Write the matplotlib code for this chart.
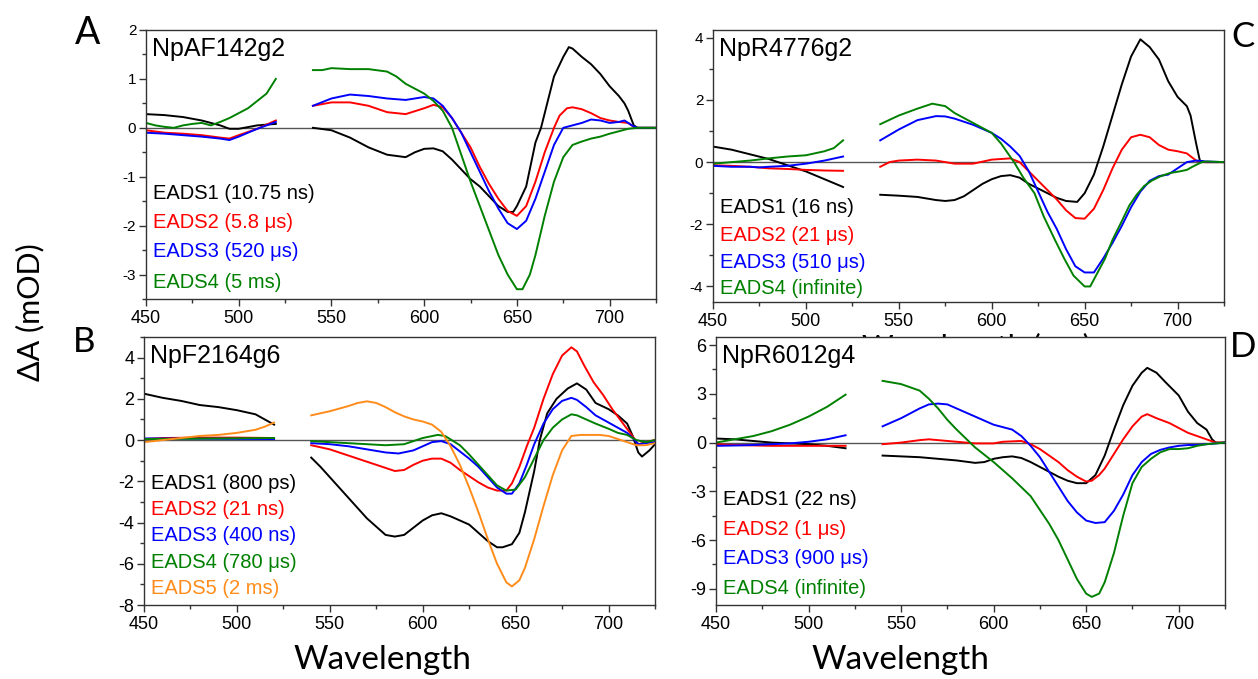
import matplotlib.pyplot as plt
import numpy as np
from matplotlib.ticker import MultipleLocator

plt.rcParams['font.family'] = ['Liberation Sans', 'DejaVu Sans']
plt.rcParams['axes.unicode_minus'] = False

nan = np.nan

# ---- panel A: NpAF142g2 ----
a_k_wl = [450, 460, 470, 480, 490, 495, 500, 510, 520, 530,
          540, 550, 560, 570, 580, 590, 595, 600, 605, 610, 615, 620, 625, 630, 635, 640, 645, 648, 650, 655,
          660, 663, 667, 670, 675, 678, 680, 685, 690, 695, 700, 705, 708, 710, 713, 715, 725]
a_k = [0.28, 0.26, 0.22, 0.15, 0.05, -0.02, -0.02, 0.05, 0.08, nan,
       0, -0.05, -0.2, -0.4, -0.55, -0.6, -0.5, -0.43, -0.42, -0.48, -0.65, -0.85, -1.05, -1.2, -1.4, -1.6, -1.72, -1.72, -1.6, -1.2,
       -0.3, 0, 0.6, 1.05, 1.45, 1.65, 1.62, 1.45, 1.3, 1.1, 0.85, 0.65, 0.5, 0.35, 0.05, 0, 0]
a_r_wl = [450, 460, 470, 480, 490, 495, 500, 510, 520, 530,
          540, 550, 560, 570, 580, 590, 600, 605, 610, 615, 620, 625, 630, 635, 640, 645, 650, 655, 660,
          665, 670, 673, 677, 680, 685, 690, 695, 700, 705, 710, 713, 715, 725]
a_r = [-0.05, -0.1, -0.12, -0.15, -0.2, -0.22, -0.15, -0.02, 0.15, nan,
       0.45, 0.52, 0.52, 0.45, 0.32, 0.28, 0.4, 0.47, 0.42, 0.2, -0.1, -0.4, -0.8, -1.15, -1.45, -1.7, -1.8, -1.6, -1.1,
       -0.5, 0, 0.25, 0.4, 0.42, 0.38, 0.3, 0.2, 0.15, 0.12, 0.1, 0.02, 0, 0]
a_b_wl = [450, 460, 470, 480, 490, 495, 500, 510, 520, 530,
          540, 550, 560, 570, 580, 590, 600, 605, 610, 615, 620, 625, 630, 635, 640, 645, 650, 655, 660,
          665, 670, 675, 680, 685, 690, 695, 700, 705, 708, 712, 715, 725]
a_b = [-0.1, -0.12, -0.15, -0.18, -0.22, -0.25, -0.18, -0.02, 0.12, nan,
       0.45, 0.6, 0.68, 0.65, 0.6, 0.57, 0.63, 0.6, 0.45, 0.2, -0.1, -0.5, -0.9, -1.3, -1.65, -1.95, -2.07, -1.9, -1.45,
       -0.9, -0.35, 0, 0.05, 0.1, 0.17, 0.15, 0.1, 0.12, 0.15, 0.05, 0, 0]
a_g_wl = [450, 455, 460, 465, 470, 475, 480, 485, 490, 495, 500, 505, 510, 515, 520, 530,
          540, 545, 550, 560, 570, 580, 585, 590, 595, 600, 605, 610, 615, 620, 625, 630, 635, 640, 645, 650,
          653, 657, 660, 665, 670, 675, 680, 685, 690, 695, 700, 705, 710, 715, 725]
a_g = [0.1, 0.05, 0.02, 0.0, 0.05, 0.08, 0.1, 0.05, 0.12, 0.2, 0.3, 0.4, 0.55, 0.7, 1.0, nan,
       1.18, 1.18, 1.22, 1.2, 1.2, 1.15, 1.05, 0.9, 0.8, 0.7, 0.55, 0.35, 0.0, -0.55, -1.1, -1.6, -2.1, -2.6, -3.0, -3.3,
       -3.3, -3.0, -2.6, -1.8, -1.1, -0.6, -0.35, -0.28, -0.22, -0.18, -0.12, -0.07, -0.02, 0, 0]
a_labels = ['EADS1 (10.75 ns)', 'EADS2 (5.8 \u03bcs)', 'EADS3 (520 \u03bcs)', 'EADS4 (5 ms)']

# ---- panel C: NpR4776g2 ----
c_k_wl = [450, 460, 470, 480, 490, 500, 510, 520, 530,
          540, 550, 560, 570, 575, 580, 585, 590, 595, 600, 605, 610, 615, 620, 625, 630, 635, 640, 646, 650,
          655, 660, 665, 670, 675, 680, 685, 690, 695, 700, 705, 707, 710, 712, 715, 725]
c_k = [0.5, 0.4, 0.25, 0.1, -0.1, -0.3, -0.55, -0.8, nan,
       -1.05, -1.08, -1.12, -1.22, -1.25, -1.22, -1.1, -0.9, -0.7, -0.55, -0.45, -0.42, -0.5, -0.7, -0.85, -1.0, -1.15, -1.25, -1.28, -1.0,
       -0.4, 0.5, 1.5, 2.5, 3.4, 3.95, 3.7, 3.3, 2.6, 2.1, 1.8, 1.5, 0.6, 0.05, 0, 0]
c_r_wl = [450, 460, 470, 480, 490, 500, 510, 520, 530,
          540, 545, 550, 560, 570, 580, 590, 600, 610, 615, 620, 625, 630, 635, 640, 645, 650, 655, 660, 665,
          670, 675, 680, 685, 690, 695, 700, 705, 710, 713, 725]
c_r = [-0.1, -0.12, -0.15, -0.2, -0.22, -0.25, -0.27, -0.28, nan,
       -0.15, 0.0, 0.05, 0.08, 0.05, -0.05, -0.05, 0.08, 0.12, 0.0, -0.3, -0.6, -0.9, -1.2, -1.55, -1.8, -1.82, -1.5, -0.9, -0.2,
       0.4, 0.8, 0.88, 0.8, 0.55, 0.4, 0.35, 0.28, 0.05, 0.0, 0.0]
c_b_wl = [450, 460, 470, 475, 480, 490, 500, 510, 520, 530,
          540, 550, 560, 570, 575, 580, 590, 600, 605, 610, 615, 620, 625, 630, 635, 640, 645, 650, 655, 660,
          665, 670, 675, 680, 685, 690, 695, 700, 705, 710, 715, 725]
c_b = [-0.12, -0.15, -0.15, -0.17, -0.15, -0.12, -0.05, 0.05, 0.18, nan,
       0.7, 1.05, 1.35, 1.48, 1.47, 1.4, 1.2, 0.94, 0.75, 0.5, 0.2, -0.3, -0.95, -1.6, -2.15, -2.8, -3.35, -3.55, -3.55, -3.1,
       -2.6, -2.05, -1.45, -0.95, -0.6, -0.45, -0.4, -0.2, 0.0, 0.05, 0.02, 0]
c_g_wl = [450, 460, 470, 480, 490, 500, 510, 515, 520, 530,
          540, 550, 560, 568, 575, 580, 590, 600, 605, 612, 617, 623, 628, 634, 639, 644, 650, 653, 657, 661,
          665, 670, 674, 678, 682, 686, 691, 696, 701, 705, 708, 713, 716, 725]
c_g = [-0.05, 0.0, 0.05, 0.12, 0.18, 0.22, 0.35, 0.45, 0.7, nan,
       1.22, 1.5, 1.72, 1.88, 1.8, 1.58, 1.26, 0.94, 0.6, 0.0, -0.5, -1.0, -1.75, -2.5, -3.1, -3.65, -4.0, -4.0, -3.55, -3.1,
       -2.5, -1.9, -1.4, -1.05, -0.77, -0.6, -0.45, -0.35, -0.3, -0.25, -0.15, 0.0, 0.02, 0]
c_labels = ['EADS1 (16 ns)', 'EADS2 (21 \u03bcs)', 'EADS3 (510 \u03bcs)', 'EADS4 (infinite)']

# ---- panel B: NpF2164g6 ----
b_k_wl = [450, 460, 470, 480, 490, 500, 510, 515, 520, 530,
          540, 545, 550, 555, 560, 565, 570, 575, 580, 585, 590, 595, 600, 605, 610, 615, 620, 625, 630, 635,
          640, 643, 648, 652, 655, 660, 663, 667, 672, 678, 683, 688, 693, 700, 705, 710, 713, 716, 718, 722, 725]
b_k = [2.25, 2.05, 1.9, 1.7, 1.6, 1.45, 1.25, 1.0, 0.75, nan,
       -0.85, -1.3, -1.8, -2.3, -2.8, -3.3, -3.8, -4.2, -4.6, -4.68, -4.6, -4.25, -3.9, -3.65, -3.55, -3.7, -3.9, -4.1, -4.5, -4.9,
       -5.2, -5.2, -5.05, -4.5, -3.5, -1.5, 0, 1.3, 2.0, 2.5, 2.75, 2.45, 1.8, 1.5, 1.2, 0.8, 0.2, -0.6, -0.8, -0.5, -0.2]
b_r_wl = [450, 460, 480, 500, 520, 530,
          540, 550, 560, 570, 580, 585, 590, 595, 600, 605, 610, 615, 620, 625, 630, 635, 640, 645, 648, 652,
          656, 660, 665, 670, 675, 680, 683, 687, 692, 697, 702, 707, 712, 716, 720, 725]
b_r = [0.05, 0.1, 0.12, 0.12, 0.1, nan,
       -0.25, -0.45, -0.75, -1.05, -1.35, -1.5, -1.45, -1.2, -1.0, -0.9, -0.9, -1.1, -1.45, -1.75, -2.05, -2.3, -2.45, -2.45, -2.1, -1.3,
       -0.3, 0.6, 2.0, 3.2, 4.1, 4.5, 4.3, 3.6, 2.8, 2.2, 1.5, 0.9, 0.3, -0.2, -0.1, 0]
b_b_wl = [450, 520, 530,
          540, 550, 560, 570, 580, 587, 595, 600, 605, 610, 615, 620, 625, 630, 635, 640, 645, 648, 652,
          656, 660, 665, 670, 675, 680, 683, 688, 693, 700, 705, 710, 713, 716, 720, 725]
b_b = [0.08, 0.05, nan,
       -0.15, -0.2, -0.3, -0.45, -0.6, -0.65, -0.5, -0.3, -0.1, -0.05, -0.2, -0.55, -0.9, -1.3, -1.8, -2.3, -2.6, -2.6, -2.1,
       -1.2, -0.2, 0.8, 1.5, 1.9, 2.05, 1.95, 1.6, 1.2, 0.85, 0.6, 0.35, 0.1, -0.2, -0.15, -0.1]
b_g_wl = [450, 520, 530,
          540, 550, 560, 570, 580, 590, 600, 608, 612, 620, 625, 630, 635, 640, 645, 650, 655,
          660, 665, 670, 675, 680, 683, 688, 693, 700, 705, 710, 715, 720, 725]
b_g = [0.05, 0.1, nan,
       -0.05, -0.1, -0.15, -0.2, -0.25, -0.2, 0.1, 0.25, 0.2, -0.25, -0.7, -1.2, -1.7, -2.2, -2.45, -2.4, -1.8,
       -0.9, 0.0, 0.6, 1.0, 1.25, 1.2, 1.0, 0.8, 0.55, 0.35, 0.25, 0.0, -0.1, 0.0]
b_o_wl = [450, 460, 470, 480, 490, 500, 510, 515, 520, 530,
          540, 550, 560, 565, 570, 575, 580, 585, 590, 595, 600, 605, 610, 615, 620, 625, 630, 635, 640, 645,
          648, 652, 655, 660, 665, 670, 675, 680, 685, 690, 695, 700, 705, 710, 715, 720, 725]
b_o = [-0.1, 0.0, 0.1, 0.2, 0.25, 0.35, 0.5, 0.65, 0.85, nan,
       1.2, 1.4, 1.65, 1.8, 1.88, 1.8, 1.6, 1.35, 1.15, 1.0, 0.9, 0.75, 0.4, -0.3, -1.2, -2.3, -3.5, -4.8, -6.0, -6.9,
       -7.1, -6.8, -6.2, -4.8, -3.2, -1.7, -0.5, 0.2, 0.25, 0.25, 0.25, 0.2, 0.05, -0.1, -0.25, -0.25, -0.15]
b_labels = ['EADS1 (800 ps)', 'EADS2 (21 ns)', 'EADS3 (400 ns)', 'EADS4 (780 \u03bcs)', 'EADS5 (2 ms)']

# ---- panel D: NpR6012g4 ----
d_k_wl = [450, 460, 470, 480, 490, 500, 510, 520, 530,
          540, 550, 560, 570, 580, 590, 595, 600, 605, 610, 615, 620, 625, 630, 635, 640, 645, 650, 655, 660,
          665, 670, 675, 680, 683, 688, 693, 700, 705, 710, 715, 718, 720, 725]
d_k = [0.25, 0.2, 0.1, 0.0, -0.05, -0.1, -0.2, -0.35, nan,
       -0.8, -0.85, -0.9, -1.0, -1.1, -1.25, -1.2, -1.0, -0.9, -0.85, -0.95, -1.2, -1.5, -1.8, -2.1, -2.35, -2.5, -2.5, -2.0, -0.8,
       0.8, 2.3, 3.5, 4.3, 4.6, 4.3, 3.7, 2.9, 1.9, 1.2, 0.8, 0.2, 0.0, 0]
d_r_wl = [450, 460, 480, 500, 520, 530,
          540, 550, 560, 565, 570, 580, 590, 600, 605, 615, 620, 625, 630, 635, 640, 645, 650, 653, 657, 660,
          665, 670, 675, 680, 683, 688, 695, 700, 705, 710, 715, 720, 725]
d_r = [-0.1, -0.15, -0.2, -0.2, -0.2, nan,
       -0.1, 0.0, 0.15, 0.2, 0.15, 0.05, -0.05, -0.05, 0.05, 0.1, -0.1, -0.4, -0.8, -1.2, -1.7, -2.1, -2.4, -2.35, -2.0, -1.6,
       -0.7, 0.2, 1.0, 1.6, 1.75, 1.5, 1.2, 0.9, 0.6, 0.4, 0.2, 0.0, 0]
d_b_wl = [450, 460, 470, 480, 490, 500, 510, 520, 530,
          540, 550, 560, 565, 570, 575, 580, 590, 600, 610, 615, 620, 625, 630, 635, 640, 645, 650, 655, 660,
          665, 670, 675, 680, 685, 690, 695, 700, 705, 710, 715, 720, 725]
d_b = [-0.2, -0.18, -0.15, -0.1, -0.05, 0.05, 0.2, 0.45, nan,
       1.0, 1.5, 2.1, 2.35, 2.4, 2.35, 2.1, 1.6, 1.1, 0.8, 0.4, -0.2, -0.9, -1.8, -2.7, -3.6, -4.3, -4.8, -4.95, -4.9,
       -4.2, -3.2, -2.0, -1.2, -0.7, -0.45, -0.3, -0.2, -0.15, -0.15, -0.1, -0.05, 0]
d_g_wl = [450, 460, 470, 480, 490, 500, 510, 520, 530,
          540, 550, 560, 565, 570, 575, 580, 590, 600, 610, 620, 630, 635, 640, 645, 650, 653, 657, 660,
          665, 670, 675, 680, 685, 690, 695, 700, 705, 710, 715, 720, 725]
d_g = [0.0, 0.2, 0.4, 0.7, 1.1, 1.6, 2.2, 2.95, nan,
       3.8, 3.6, 3.2, 2.7, 2.1, 1.4, 0.8, -0.3, -1.2, -2.2, -3.3, -5.0, -6.0, -7.2, -8.4, -9.3, -9.5, -9.3, -8.6,
       -6.8, -4.5, -2.5, -1.5, -1.0, -0.6, -0.4, -0.4, -0.35, -0.2, -0.1, -0.05, 0]
d_labels = ['EADS1 (22 ns)', 'EADS2 (1 \u03bcs)', 'EADS3 (900 \u03bcs)', 'EADS4 (infinite)']

colors = ['black', '#ff0000', '#0000ff', '#008000', '#ff8c1a']

W, H = 1258, 679
fig = plt.figure(figsize=(W / 100, H / 100), dpi=100)


def box(l, t, r, b):
    return [l / W, 1 - b / H, (r - l) / W, (b - t) / H]


def panel(rect, series, ylim, major, minor, title, labels, label_y, ytick_fs):
    ax = fig.add_axes(box(*rect))
    ax.axhline(0, color='#555555', lw=1, zorder=1)
    for i, (wl, v) in enumerate(series):
        ax.plot(wl, v, color=colors[i], lw=1.4, zorder=2)
    ax.set_xlim(450, 725)
    ax.set_ylim(*ylim)
    ax.xaxis.set_major_locator(MultipleLocator(50))
    ax.xaxis.set_minor_locator(MultipleLocator(25))
    ax.yaxis.set_major_locator(MultipleLocator(major))
    ax.yaxis.set_minor_locator(MultipleLocator(minor))
    ax.tick_params(which='major', direction='out', length=5, width=1, color='#333333')
    ax.tick_params(which='minor', direction='out', length=3, width=1, color='#333333')
    ax.tick_params(axis='x', labelsize=13, pad=3)
    ax.tick_params(axis='y', labelsize=ytick_fs, pad=2)
    for s in ax.spines.values():
        s.set_color('#333333')
        s.set_linewidth(1)
    ax.text(0.012, 0.975, title, transform=ax.transAxes, fontsize=18, va='top', ha='left')
    for i, lab in enumerate(labels):
        ax.text(0.013, label_y[i], lab, transform=ax.transAxes, fontsize=14.5,
                color=colors[i], va='center', ha='left')
    return ax


ax_a = panel((146, 30, 656, 299),
             [(a_k_wl, a_k), (a_r_wl, a_r), (a_b_wl, a_b), (a_g_wl, a_g)],
             (-3.5, 2), 1, 0.5, 'NpAF142g2', a_labels, [0.394, 0.286, 0.175, 0.063], 11)
ax_c = panel((713, 30, 1224, 302),
             [(c_k_wl, c_k), (c_r_wl, c_r), (c_b_wl, c_b), (c_g_wl, c_g)],
             (-4.5, 4.25), 2, 1, 'NpR4776g2', c_labels, [0.346, 0.246, 0.147, 0.051], 11)
# C's axis label is almost hidden behind panel D, as in the source figure
fig.text(976 / W, 1 - 347 / H, 'Wavelength (nm)', fontsize=22, ha='center', va='center',
         family=['Lato', 'DejaVu Sans'], zorder=-1)
ax_b = panel((144, 337, 655, 605),
             [(b_k_wl, b_k), (b_r_wl, b_r), (b_b_wl, b_b), (b_g_wl, b_g), (b_o_wl, b_o)],
             (-8, 5), 2, 1, 'NpF2164g6', b_labels, [0.455, 0.358, 0.261, 0.160, 0.063], 13)
ax_d = panel((716, 337, 1225, 605),
             [(d_k_wl, d_k), (d_r_wl, d_r), (d_b_wl, d_b), (d_g_wl, d_g)],
             (-10, 6.5), 3, 1.5, 'NpR6012g4', d_labels, [0.392, 0.280, 0.175, 0.063], 13)

big = ['Lato', 'DejaVu Sans']
fig.text(88 / W, 1 - 33 / H, 'A', fontsize=27, ha='center', va='center', family=big)
fig.text(1243 / W, 1 - 37 / H, 'C', fontsize=25, ha='center', va='center', family=big)
fig.text(84 / W, 1 - 342 / H, 'B', fontsize=25, ha='center', va='center', family=big)
fig.text(1243 / W, 1 - 347 / H, 'D', fontsize=25, ha='center', va='center', family=big)
fig.text(30 / W, 1 - 312 / H, '\u0394A (mOD)', fontsize=22, rotation=90, ha='center', va='center', family=big)
fig.text(382 / W, 1 - 660 / H, 'Wavelength', fontsize=24, ha='center', va='center', family=big)
fig.text(900 / W, 1 - 660 / H, 'Wavelength', fontsize=24, ha='center', va='center', family=big)

fig.savefig('out.png', dpi=100)
